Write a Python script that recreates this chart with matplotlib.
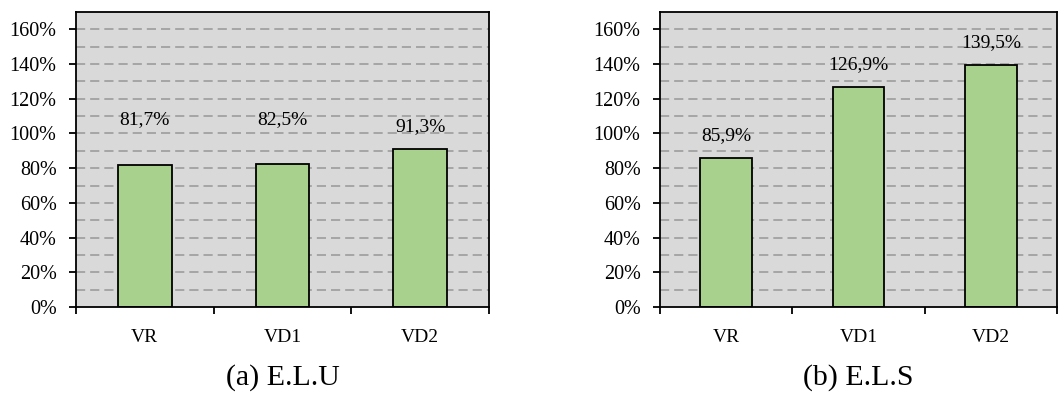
import numpy as np
import matplotlib
matplotlib.use("Agg")
import matplotlib.pyplot as plt
from matplotlib.ticker import FixedLocator, NullFormatter

plt.rcParams["font.family"] = ["Liberation Serif", "DejaVu Serif"]

categories = ["VR", "VD1", "VD2"]
elu_values = [81.7, 82.5, 91.3]
els_values = [85.9, 126.9, 139.5]
elu_labels = ["81,7%", "82,5%", "91,3%"]
els_labels = ["85,9%", "126,9%", "139,5%"]
captions = ["(a) E.L.U", "(b) E.L.S"]

# label offsets above bar tops (points)
elu_offsets = [33, 32, 16]
els_offsets = [16, 16, 16]

fig = plt.figure(figsize=(10.6, 4.12), dpi=100)
ax1 = fig.add_axes([0.0717, 0.2549, 0.3896, 0.7160])
ax2 = fig.add_axes([0.6226, 0.2549, 0.3745, 0.7160])

panels = [(ax1, elu_values, elu_labels, elu_offsets, captions[0]),
          (ax2, els_values, els_labels, els_offsets, captions[1])]

for ax, vals, labs, offs, cap in panels:
    x = np.arange(len(categories))
    ax.set_facecolor("#D9D9D9")
    ax.set_axisbelow(True)
    for g in np.arange(10, 170, 10):
        ax.axhline(g, color="#9C9C9C", lw=1.2, ls=(0, (5.5, 3)), zorder=0.5)
    ax.bar(x, vals, width=0.39, color="#A9D18E", edgecolor="black",
           linewidth=1.3, zorder=2)
    for xi, v, t, o in zip(x, vals, labs, offs):
        ax.annotate(t, (xi, v), xytext=(0, o), textcoords="offset points",
                    ha="center", va="center", fontsize=14)
    ax.set_xlim(-0.5, 2.5)
    ax.set_ylim(0, 170)
    ax.set_yticks(np.arange(0, 170, 20))
    ax.set_yticklabels([f"{int(v)}%" for v in np.arange(0, 170, 20)])
    ax.tick_params(axis="y", direction="out", length=5, width=1.3,
                   labelsize=14.5, pad=9)
    ax.xaxis.set_major_locator(FixedLocator([-0.5, 0.5, 1.5, 2.5]))
    ax.xaxis.set_major_formatter(NullFormatter())
    ax.xaxis.set_minor_locator(FixedLocator(list(x)))
    ax.set_xticklabels(categories, minor=True)
    ax.tick_params(axis="x", which="major", direction="out", length=5, width=1.3)
    ax.tick_params(axis="x", which="minor", length=0, labelsize=14, pad=16)
    for s in ax.spines.values():
        s.set_linewidth(1.3)
        s.set_color("black")
    ax.text(0.5, -0.24, cap, transform=ax.transAxes, ha="center",
            va="center", fontsize=21.5)

fig.savefig("out.png", dpi=100)
